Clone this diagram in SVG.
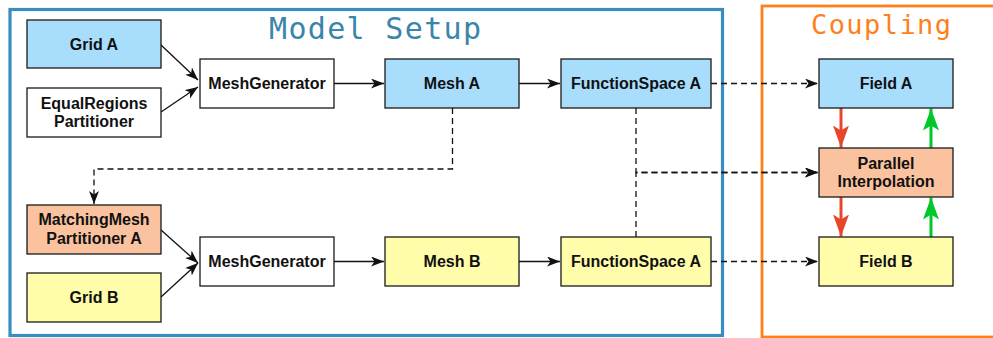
<svg xmlns="http://www.w3.org/2000/svg" width="993" height="338" viewBox="0 0 993 338">
<style>
.node rect{stroke:#1a1a1a;stroke-width:1.3}
.blue{fill:#A8DEFC}
.yellow{fill:#FFFCAA}
.peach{fill:#FBC29F}
.white{fill:#FFFFFF}
.lbl{font-family:"Liberation Sans",Arial,sans-serif;font-weight:bold;font-size:16px;fill:#111;text-anchor:middle}
.title{font-family:"DejaVu Sans Mono","Liberation Mono",monospace}
.edge{fill:none;stroke:#111;stroke-width:1.3;marker-end:url(#arr)}
.dash{stroke-dasharray:6 4}
.red{fill:none;stroke:#E8462A;stroke-width:3;marker-end:url(#arrRed)}
.green{fill:none;stroke:#00C82A;stroke-width:3;marker-end:url(#arrGreen)}
</style>
<defs>
<marker id="arr" markerUnits="userSpaceOnUse" markerWidth="14" markerHeight="11" refX="13" refY="5" orient="auto">
<path d="M0,0 L13,5 L0,10 L3.5,5 Z" fill="#111"/>
</marker>
<marker id="arrRed" markerUnits="userSpaceOnUse" markerWidth="23" markerHeight="17" refX="22" refY="8" orient="auto">
<path d="M0,0 L22,8 L0,16 L5,8 Z" fill="#E8462A"/>
</marker>
<marker id="arrGreen" markerUnits="userSpaceOnUse" markerWidth="23" markerHeight="17" refX="22" refY="8" orient="auto">
<path d="M0,0 L22,8 L0,16 L5,8 Z" fill="#00C82A"/>
</marker>
</defs>
<rect width="993" height="338" fill="#FFFFFF"/>

<g id="model-setup">
<rect x="10" y="9.5" width="712.5" height="326" fill="none" stroke="#3A8DBF" stroke-width="3.2"/>
<text class="title" x="269" y="38.5" font-size="30" fill="#3A85AA" textLength="212" lengthAdjust="spacing">Model Setup</text>
</g>
<g id="coupling">
<rect x="762" y="6" width="260" height="331" fill="none" stroke="#FF8018" stroke-width="2.8"/>
<text class="title" x="811" y="33.5" font-size="27" fill="#FF8018" textLength="140" lengthAdjust="spacing">Coupling</text>
</g>

<g id="connectors">
<path class="edge" d="M161,45 L198,80"/>
<path class="edge" d="M161,112 L198,87"/>
<path class="edge" d="M334,83.5 L384,83.5"/>
<path class="edge" d="M519,83.5 L560,83.5"/>
<path class="edge dash" d="M711,83.5 L818,83.5"/>
<path class="edge dash" d="M452.5,108 L452.5,169 L94,169 L94,204"/>
<path class="edge dash" d="M636,108 L636,172.5 L818,172.5"/>
<path class="edge dash" d="M636,237 L636,172.5 L818,172.5"/>
<path class="edge" d="M161,230 L198,263"/>
<path class="edge" d="M161,297 L198,263"/>
<path class="edge" d="M334,261.5 L384,261.5"/>
<path class="edge" d="M519,261.5 L560,261.5"/>
<path class="edge dash" d="M711,261.5 L818,261.5"/>
<path class="red" d="M841,108 L841,147.5"/>
<path class="red" d="M841,197 L841,236.5"/>
<path class="green" d="M931,148 L931,108.5"/>
<path class="green" d="M931,237 L931,197.5"/>
</g>

<g id="grid-a" class="node"><rect class="blue" x="27" y="20" width="134" height="48"/><text class="lbl" x="94" y="49.7">Grid A</text></g>
<g id="equalregions-partitioner" class="node"><rect class="white" x="27" y="88" width="134" height="49"/><text class="lbl" x="94" y="108.5">EqualRegions</text><text class="lbl" x="94" y="126.7">Partitioner</text></g>
<g id="meshgenerator-a" class="node"><rect class="white" x="200" y="59" width="134" height="49"/><text class="lbl" x="267" y="89.2">MeshGenerator</text></g>
<g id="mesh-a" class="node"><rect class="blue" x="385" y="59" width="134" height="49"/><text class="lbl" x="452" y="89.2">Mesh A</text></g>
<g id="functionspace-a-top" class="node"><rect class="blue" x="561" y="59" width="150" height="49"/><text class="lbl" x="636" y="89.2">FunctionSpace A</text></g>
<g id="field-a" class="node"><rect class="blue" x="819" y="59" width="134" height="49"/><text class="lbl" x="886" y="89.2">Field A</text></g>
<g id="parallel-interpolation" class="node"><rect class="peach" x="819" y="148" width="134" height="49"/><text class="lbl" x="886" y="168.5">Parallel</text><text class="lbl" x="886" y="186.7">Interpolation</text></g>
<g id="matchingmesh-partitioner-a" class="node"><rect class="peach" x="27" y="205" width="134" height="49"/><text class="lbl" x="94" y="225.2">MatchingMesh</text><text class="lbl" x="94" y="243.5">Partitioner A</text></g>
<g id="grid-b" class="node"><rect class="yellow" x="27" y="273" width="134" height="49"/><text class="lbl" x="94" y="303.2">Grid B</text></g>
<g id="meshgenerator-b" class="node"><rect class="white" x="200" y="237" width="134" height="49"/><text class="lbl" x="267" y="267.2">MeshGenerator</text></g>
<g id="mesh-b" class="node"><rect class="yellow" x="385" y="237" width="134" height="49"/><text class="lbl" x="452" y="267.2">Mesh B</text></g>
<g id="functionspace-a-bottom" class="node"><rect class="yellow" x="561" y="237" width="150" height="49"/><text class="lbl" x="636" y="267.2">FunctionSpace A</text></g>
<g id="field-b" class="node"><rect class="yellow" x="819" y="237" width="134" height="49"/><text class="lbl" x="886" y="267.2">Field B</text></g>
</svg>
